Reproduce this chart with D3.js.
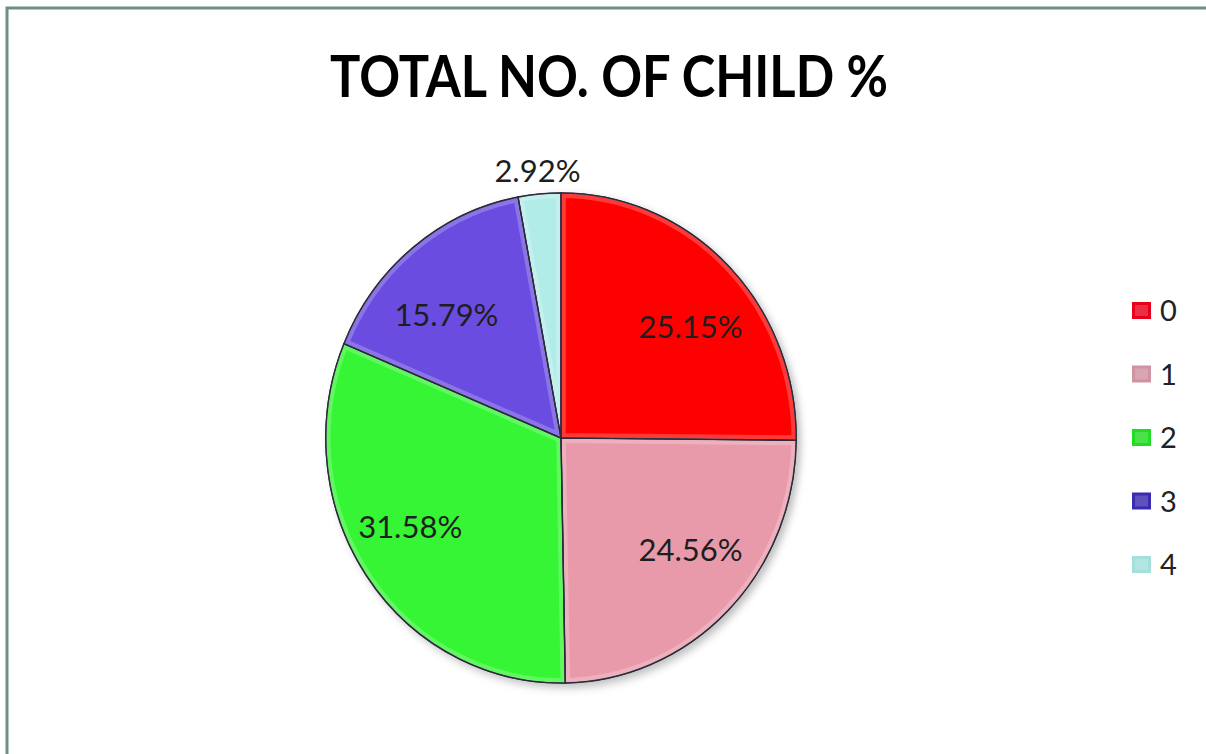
<!DOCTYPE html>
<html>
<head>
<meta charset="utf-8">
<script src="https://cdn.jsdelivr.net/npm/d3@7"></script>
<style>
  body { margin: 0; background: #fff; }
  svg { display: block; }
</style>
</head>
<body>
<div id="chart"></div>
<script>
var categories = ["0", "1", "2", "3", "4"];
var percents = [25.15, 24.56, 31.58, 15.79, 2.92];
var sliceColors = ["#ff0000", "#e99aaa", "#35f535", "#6a4ee0", "#b2ece8"];
var legendColors = ["#e8001a", "#cf93a2", "#22dc22", "#3a2bb0", "#a3e0dc"];
var title = "TOTAL NO. OF CHILD %";

var width = 1206, height = 754;

var svg = d3.select("#chart").append("svg")
    .attr("width", width)
    .attr("height", height);

// frame, only left and top edges show in the crop
svg.append("path")
    .attr("d", "M7," + height + "V8H" + width)
    .attr("fill", "none")
    .attr("stroke", "#6c8f87")
    .attr("stroke-width", 3);

svg.append("text")
    .attr("x", 609)
    .attr("y", 97)
    .attr("text-anchor", "middle")
    .attr("font-family", "Lato, 'Open Sans', sans-serif")
    .attr("font-weight", "bold")
    .attr("font-size", 58)
    .attr("textLength", 558)
    .attr("lengthAdjust", "spacingAndGlyphs")
    .attr("fill", "#000")
    .text(title);

var defs = svg.append("defs");
var shadow = defs.append("filter").attr("id", "shadow")
    .attr("x", "-10%").attr("y", "-10%").attr("width", "130%").attr("height", "130%");
shadow.append("feDropShadow")
    .attr("dx", 4).attr("dy", 4).attr("stdDeviation", 4)
    .attr("flood-color", "#000").attr("flood-opacity", 0.25);

var radius = 245; // magic number
var sx = 0.96;    // the picture is a little squashed sideways
var g = svg.append("g")
    .attr("transform", "translate(561,438) scale(" + sx + ",1)");

var pie = d3.pie().sort(null).value(function(d) { return d; });
var arc = d3.arc().innerRadius(0).outerRadius(radius);
var labelArc = d3.arc().innerRadius(172).outerRadius(172);
var outerLabelArc = d3.arc().innerRadius(268).outerRadius(268);

var arcs = pie(percents);

g.append("g")
    .attr("filter", "url(#shadow)")
    .selectAll("path")
    .data(arcs)
    .enter().append("path")
    .attr("d", arc)
    .attr("fill", function(d, i) { return sliceColors[i]; })
    .attr("stroke", "#2a2a3a")
    .attr("stroke-width", 1.5)
    .attr("stroke-linejoin", "round");

// soft bevel highlight along slice edges
var clip = defs.selectAll("clipPath")
    .data(arcs)
    .enter().append("clipPath")
    .attr("id", function(d, i) { return "slice" + i; });
clip.append("path").attr("d", arc);

g.append("g")
    .selectAll("path")
    .data(arcs)
    .enter().append("path")
    .attr("d", arc)
    .attr("clip-path", function(d, i) { return "url(#slice" + i + ")"; })
    .attr("fill", "none")
    .attr("stroke", "#fff")
    .attr("stroke-opacity", 0.22)
    .attr("stroke-width", 10);

g.append("g")
    .selectAll("path")
    .data(arcs)
    .enter().append("path")
    .attr("d", arc)
    .attr("fill", "none")
    .attr("stroke", "#2a2a3a")
    .attr("stroke-width", 1.2);

svg.append("g")
    .attr("transform", "translate(561,438)")
    .selectAll("text")
    .data(arcs)
    .enter().append("text")
    .attr("transform", function(d) {
        if (d.data < 5) {
            var o = outerLabelArc.centroid(d);
            return "translate(" + (o[0] * sx) + "," + o[1] + ")";
        }
        var c = labelArc.centroid(d);
        // labels sit on a flatter ring, pulled toward the sides
        return "translate(" + (c[0] * 1.06) + "," + (c[1] * 0.92) + ")";
    })
    .attr("text-anchor", "middle")
    .attr("dy", "0.36em")
    .attr("font-family", "Lato, 'Open Sans', sans-serif")
    .attr("font-size", 31)
    .attr("fill", "#1e1e1e")
    .text(function(d) { return d.data.toFixed(2) + "%"; });

var legend = svg.append("g")
    .attr("transform", "translate(1132,311)");

var row = legend.selectAll("g")
    .data(categories)
    .enter().append("g")
    .attr("transform", function(d, i) { return "translate(0," + (i * 63.5) + ")"; });

row.append("rect")
    .attr("x", 0)
    .attr("y", -9)
    .attr("width", 19)
    .attr("height", 17)
    .attr("fill", function(d, i) { return legendColors[i]; });

row.append("rect")
    .attr("x", 3)
    .attr("y", -6)
    .attr("width", 13)
    .attr("height", 11)
    .attr("fill", "#fff")
    .attr("opacity", 0.18);

row.append("text")
    .attr("x", 28)
    .attr("dy", "0.36em")
    .attr("font-family", "Lato, 'Open Sans', sans-serif")
    .attr("font-size", 29)
    .attr("fill", "#222")
    .text(function(d) { return d; });
</script>
</body>
</html>
